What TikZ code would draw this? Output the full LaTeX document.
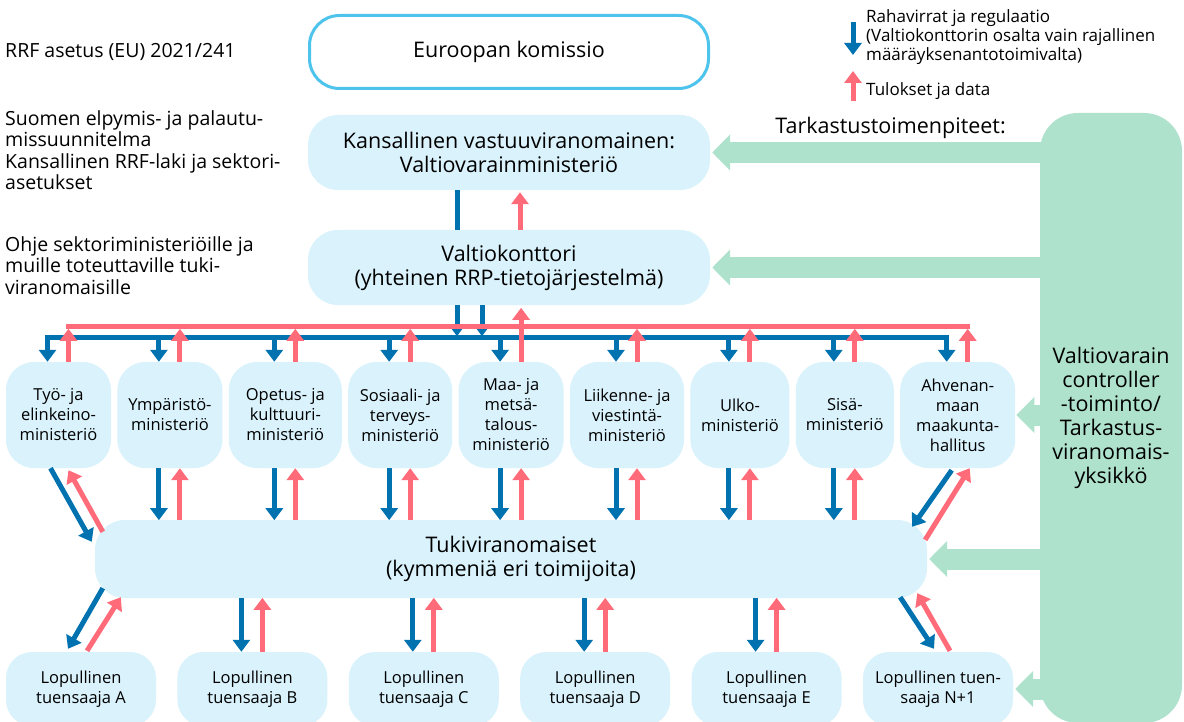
\documentclass[tikz,border=0pt]{standalone}
\usepackage{fontspec}
\setsansfont{Open Sans}
\usetikzlibrary{
  arrows.meta,
  positioning,  % right=of
  calc,         % $...$
}
\definecolor{rrfblue}{RGB}{0,114,176}
\definecolor{rrfred}{RGB}{255,107,120}
\definecolor{rrfbox}{RGB}{217,242,251}
\definecolor{rrfgreen}{RGB}{174,226,204}
\definecolor{rrfline}{RGB}{78,195,236}
% arrows above and below one ministry
\newcommand{\minup}[1]{
  \draw[money] ($(#1.north)+(-11,-24)$) -- ($(#1.north)+(-11,0)$);
  \draw[money] ($(#1.south)+(-11,0)$) -- ($(#1.south)+(-11,52)$);
}
\newcommand{\mindata}[1]{
  \draw[data] ($(#1.north)+(10,0)$) -- ($(#1.north)+(10,-33)$);
  \draw[data] ($(#1.south)+(10,52)$) -- ($(#1.south)+(10,0)$);
}
\newcommand{\recipientlinks}[1]{
  \draw[money] ($(#1.north)+(-11,-54)$) -- ($(#1.north)+(-11,0)$);
  \draw[data]  ($(#1.north)+(10,0)$) -- ($(#1.north)+(10,-54)$);
}
\tikzset{
  font=\sffamily,
  big text/.style={font=\sffamily\fontsize{21.5}{24}\selectfont},
  small text/.style={font=\sffamily\fontsize{16.5}{20}\selectfont},
  side text/.style={
    font=\sffamily\fontsize{19.5}{21.5}\selectfont,
    align=left,
    inner sep=0pt
  },
  legend text/.style={
    font=\sffamily\fontsize{17}{19}\selectfont,
    align=left,
    inner sep=0pt
  },
  pale box/.style={
    fill=rrfbox,
    draw=none,
    align=center,
    inner sep=0pt
  },
  main box/.style={
    pale box,
    big text,
    minimum width=402pt,
    minimum height=75pt,
    rounded corners=30pt
  },
  min box/.style={
    pale box,
    small text,
    minimum height=106pt,
    rounded corners=28pt
  },
  recipient box/.style={
    pale box,
    small text,
    minimum width=150pt,
    minimum height=74pt,
    rounded corners=26pt
  },
  money/.style={
    draw=rrfblue,
    line width=5pt,
    -{Triangle[width=17pt,length=12pt]}
  },
  money line/.style={
    draw=rrfblue,
    line width=5pt
  },
  data/.style={
    draw=rrfred,
    line width=5pt,
    -{Triangle[width=17pt,length=12pt]}
  },
  data line/.style={
    draw=rrfred,
    line width=5pt
  },
  check/.style={
    draw=rrfgreen,
    line width=21pt,
    -{Triangle[width=35pt,length=18pt]}
  }
}
\begin{document}
\begin{tikzpicture}[x=1pt,y=-1pt]
\useasboundingbox (0,0) rectangle (1184,722);
% left column
\node[side text,anchor=west] (reg) at (5,52) {RRF asetus (EU) 2021/241};
\node[side text,anchor=north west] (plan) at (5,110)
  {Suomen elpymis- ja palautu-\\missuunnitelma\\Kansallinen RRF-laki ja sektori-\\asetukset};
\node[side text,anchor=north west] (ohje) at (5,236)
  {Ohje sektoriministeriöille ja\\muille toteuttaville tuki-\\viranomaisille};
% top boxes
\node[main box,fill=white,draw=rrfline,line width=3pt,minimum width=399pt,minimum height=73pt]
  (ek) at (509,52) {Euroopan komissio};
\node[main box] (kans) at (509,152.5) {Kansallinen vastuuviranomainen:\\Valtiovarainministeriö};
\node[main box] (valtio) at (509,267.5) {Valtiokonttori\\(yhteinen RRP-tietojärjestelmä)};
% ministries
\node[min box,minimum width=105pt] (tem) at (58.5,415) {Työ- ja\\elinkeino-\\ministeriö};
\node[min box,minimum width=105pt,right=6pt of tem] (ym) {Ympäristö-\\ministeriö};
\node[min box,minimum width=113pt,right=6pt of ym] (okm) {Opetus- ja\\kulttuuri-\\ministeriö};
\node[min box,minimum width=104pt,right=6pt of okm] (stm) {Sosiaali- ja\\terveys-\\ministeriö};
\node[min box,minimum width=105pt,right=6pt of stm] (mmm) {Maa- ja\\metsä-\\talous-\\ministeriö};
\node[min box,minimum width=114pt,right=6pt of mmm] (lvm) {Liikenne- ja\\viestintä-\\ministeriö};
\node[min box,minimum width=99pt,right=6pt of lvm] (um) {Ulko-\\ministeriö};
\node[min box,minimum width=98pt,right=6pt of um] (sm) {Sisä-\\ministeriö};
\node[min box,minimum width=115pt,right=6pt of sm] (ahv) {Ahvenan-\\maan\\maakunta-\\hallitus};
% support authorities and final recipients
\node[main box,minimum width=832pt,minimum height=78pt] (tuki) at (511,559)
  {Tukiviranomaiset\\(kymmeniä eri toimijoita)};
\node[recipient box] (ea) at (81,689) {Lopullinen\\tuensaaja A};
\node[recipient box,right=21pt of ea] (eb) {Lopullinen\\tuensaaja B};
\node[recipient box,right=21pt of eb] (ec) {Lopullinen\\tuensaaja C};
\node[recipient box,right=21pt of ec] (ed) {Lopullinen\\tuensaaja D};
\node[recipient box,right=21pt of ed] (ee) {Lopullinen\\tuensaaja E};
\node[recipient box,right=21pt of ee] (en) {Lopullinen tuen-\\saaja N+1};
% control unit
\node[pale box,fill=rrfgreen,big text,minimum width=142pt,minimum height=610pt,rounded corners=38pt]
  (ctrl) at (1111,418) {Valtiovarain\\controller\\-toiminto/\\Tarkastus-\\viranomais-\\yksikkö};
\node[big text,anchor=east,inner sep=0pt] (tark) at (1006,128) {Tarkastustoimenpiteet:};
\draw[check] ($(ctrl.west |- kans.east)+(6,0)$) -- ($(kans.east)+(2,0)$);
\draw[check] ($(ctrl.west |- valtio.east)+(6,0)$) -- ($(valtio.east)+(2,0)$);
\draw[check] ($(ctrl.west |- ahv.east)+(6,0)$) -- ($(ahv.east)+(1,0)$);
\draw[check] ($(ctrl.west |- tuki.east)+(6,0)$) -- ($(tuki.east)+(2,0)$);
\draw[check] ($(ctrl.west |- en.east)+(6,0)$) -- ($(en.east)+(2,0)$);
% legend
\draw[money] (853,22) -- (853,55);
\node[legend text,anchor=north west] (leg1) at (866,9)
  {Rahavirrat ja regulaatio\\(Valtiokonttorin osalta vain rajallinen\\määräyksenantotoimivalta)};
\draw[data] (853,101) -- (853,71);
\node[legend text,anchor=west] (leg2) at (866,91) {Tulokset ja data};
% money flows
\draw[money line] ($(kans.south)+(-52,0)$) -- ($(valtio.north)+(-52,0)$);
\draw[money] ($(valtio.south)+(-52,0)$) -- ($(valtio.south)+(-52,31)$);
\draw[money] ($(valtio.south)+(-27,0)$) -- ($(valtio.south)+(-27,31)$);
\draw[money line,line cap=rect] ($(tem.north)+(-11,-24)$) -- ($(ahv.north)+(-11,-24)$);
\draw[money] ($(tem.north)+(-11,-24)$) -- ($(tem.north)+(-11,0)$);
\draw[money] ($(ahv.north)+(-11,-24)$) -- ($(ahv.north)+(-11,0)$);
\minup{ym}
\minup{okm}
\minup{stm}
\minup{mmm}
\minup{lvm}
\minup{um}
\minup{sm}
\draw[money] ($(tem.south)+(-8,0)$) -- ($(tuki.north west)+(-3,22)$);
\draw[money] ($(ahv.south)+(-6,2)$) -- ($(tuki.north east)+(-15,7)$);
\draw[money] ($(tuki.south west)+(8,-10)$) -- ($(ea.north)+(-13,-3)$);
\draw[money] ($(tuki.south east)+(-27,-1)$) -- ($(en.north)+(-4,-3)$);
% data flows
\draw[data] ($(valtio.north)+(11,0)$) -- ($(kans.south)+(11,2)$);
\draw[data line,line cap=rect] ($(tem.north)+(10,-35)$) -- ($(ahv.north)+(10,-35)$);
\draw[data] ($(tem.north)+(10,0)$) -- ($(tem.north)+(10,-33)$);
\draw[data] ($(ahv.north)+(10,0)$) -- ($(ahv.north)+(10,-33)$);
\draw[data] ($(mmm.north)+(10,0)$) -- ($(mmm.north)+(10,-54)$);
\draw[data] ($(mmm.south)+(10,52)$) -- ($(mmm.south)+(10,0)$);
\mindata{ym}
\mindata{okm}
\mindata{stm}
\mindata{lvm}
\mindata{um}
\mindata{sm}
\draw[data] ($(tuki.north west)+(8,12)$) -- ($(tem.south)+(10,2)$);
\draw[data] ($(tuki.north east)+(-2,20)$) -- ($(ahv.south)+(12,0)$);
\draw[data] ($(ea.north)+(6,-1)$) -- ($(tuki.south west)+(26,-1)$);
\draw[data] ($(en.north)+(12,-1)$) -- ($(tuki.south east)+(-10,-5)$);
% final recipients
\recipientlinks{eb}
\recipientlinks{ec}
\recipientlinks{ed}
\recipientlinks{ee}
\end{tikzpicture}
\end{document}
